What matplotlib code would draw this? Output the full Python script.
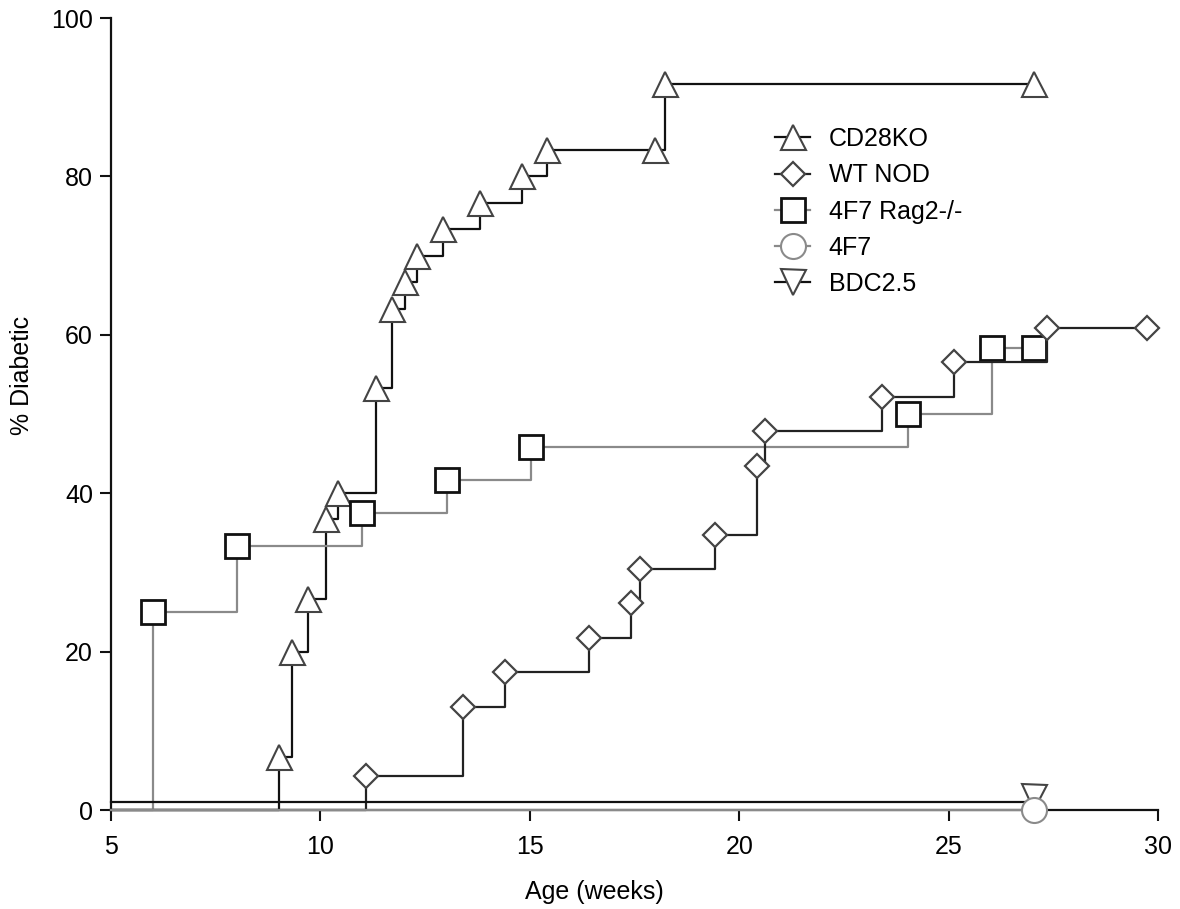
import matplotlib
matplotlib.use('Agg')
import matplotlib.pyplot as plt

plt.rcParams['font.family'] = ['Liberation Sans', 'DejaVu Sans']
plt.rcParams['font.size'] = 18

# Kaplan-Meier style curves (first point is the start at 0)
cd28_x = [5, 9.02, 9.31, 9.71, 10.13, 10.41, 11.32, 11.72, 12.02, 12.31, 12.92,
          13.81, 14.82, 15.42, 18.0, 18.23, 27.04]
cd28_y = [0, 6.7, 20.0, 26.7, 36.7, 40.0, 53.3, 63.3, 66.7, 70.0, 73.3,
          76.7, 80.0, 83.3, 83.3, 91.7, 91.7]

wt_x = [5, 11.1, 13.41, 14.41, 16.41, 17.42, 17.62, 19.42, 20.43, 20.62,
        23.42, 25.13, 27.34, 29.74]
wt_y = [0, 4.35, 13.04, 17.39, 21.74, 26.09, 30.43, 34.78, 43.48, 47.83,
        52.17, 56.52, 60.87, 60.87]

rag_x = [5, 6.0, 8.0, 11.0, 13.03, 15.03, 24.04, 26.03, 27.04]
rag_y = [0, 25.0, 33.3, 37.5, 41.7, 45.8, 50.0, 58.3, 58.3]

f47_x = [5, 27.04]
f47_y = [0, 0]

bdc_x = [5, 27.04]
bdc_y = [1.0, 1.6]

fig = plt.figure(figsize=(11.8, 9.09), dpi=100)
ax = fig.add_axes([111 / 1180, 99 / 909, 1047 / 1180, 792 / 909])

ms = 18
h_cd, = ax.plot(cd28_x, cd28_y, drawstyle='steps-post', color='#111111', lw=1.6,
                marker='^', ms=ms, mfc='white', mec='#444444', mew=1.5,
                markevery=slice(1, None), clip_on=False, zorder=3, label='CD28KO')
h_f47, = ax.plot(f47_x, f47_y, drawstyle='steps-post', color='#8a8a8a', lw=1.6,
                 marker='o', ms=ms, mfc='white', mec='#8a8a8a', mew=1.5,
                 markevery=[1], clip_on=False, zorder=6, label='4F7')
h_bdc, = ax.plot(bdc_x, bdc_y, drawstyle='steps-post', color='#111111', lw=1.6,
                 marker='v', ms=ms, mfc='white', mec='#444444', mew=1.5,
                 markevery=[1], clip_on=False, zorder=5, label='BDC2.5')
h_rag, = ax.plot(rag_x, rag_y, drawstyle='steps-post', color='#8a8a8a', lw=1.6,
                 marker='s', ms=17, mfc='white', mec='#111111', mew=2.0,
                 markevery=slice(1, None), clip_on=False, zorder=4, label='4F7 Rag2-/-')
h_wt, = ax.plot(wt_x, wt_y, drawstyle='steps-post', color='#222222', lw=1.6,
                marker='D', ms=12.5, mfc='white', mec='#444444', mew=1.6,
                markevery=slice(1, None), clip_on=False, zorder=4.5, label='WT NOD')

ax.set_xlim(5, 30)
ax.set_ylim(0, 100)
ax.set_xticks([5, 10, 15, 20, 25, 30])
ax.set_yticks([0, 20, 40, 60, 80, 100])

for side in ['top', 'right']:
    ax.spines[side].set_visible(False)
for side in ['left', 'bottom']:
    ax.spines[side].set_linewidth(1.6)
    ax.spines[side].set_color('#111111')
ax.tick_params(direction='out', length=8, width=1.5, color='#111111', pad=5)
ax.tick_params(axis='x', pad=10)

ax.set_xlabel('Age (weeks)')
ax.set_ylabel('% Diabetic')
ax.xaxis.set_label_coords(0.462, -0.088)
ax.yaxis.set_label_coords(-0.074, 0.549)

ax.legend(handles=[h_cd, h_wt, h_rag, h_f47, h_bdc], loc='upper left',
          bbox_to_anchor=(775 / 1180, 1 - 127 / 909), bbox_transform=fig.transFigure,
          frameon=False, borderpad=0, borderaxespad=0, handlelength=1.4,
          handletextpad=0.75, labelspacing=0.49, fontsize=18)

fig.savefig('out.png', dpi=100)
